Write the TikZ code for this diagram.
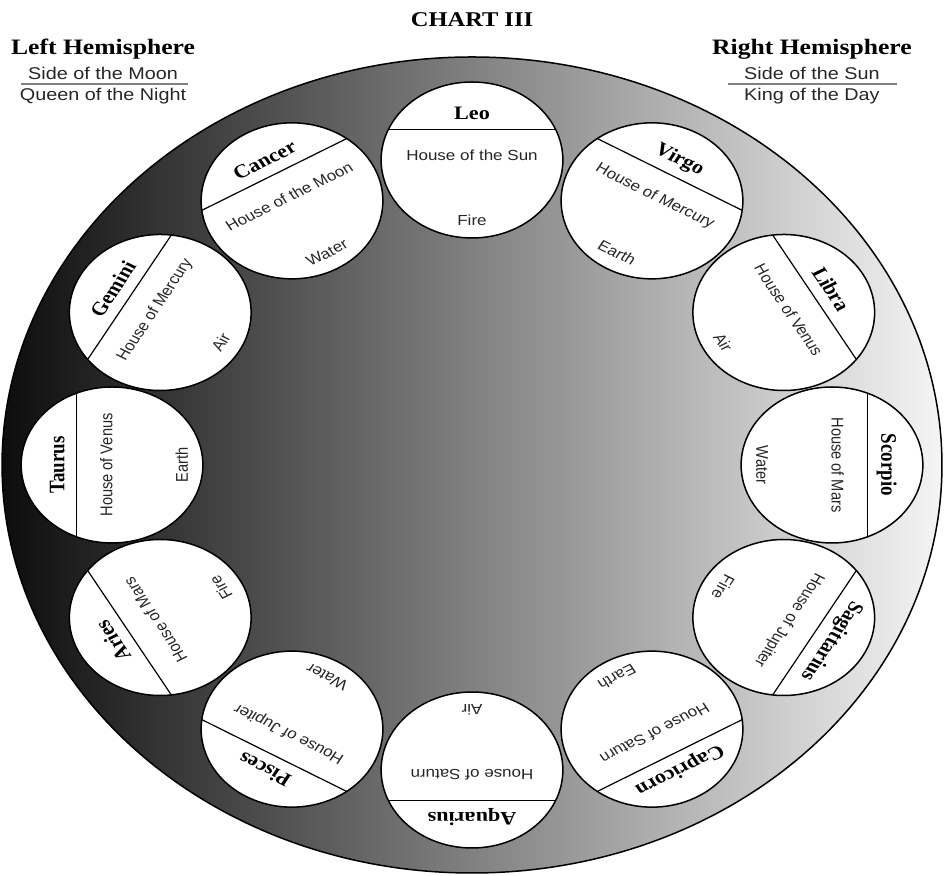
\documentclass[tikz,border=0pt]{standalone}
\usepackage{fontspec}
\setmainfont{Liberation Serif}
\newfontfamily\hsans{Liberation Sans}
\tikzset{
  signcirc/.style={circle, draw=black, line width=0.75pt, fill=white, minimum size=78pt, inner sep=0pt, outer sep=0pt},
  chordline/.style={line width=0.6pt},
  signname/.style={font=\fontsize{9.5}{11}\selectfont\bfseries, inner sep=0pt},
  housetext/.style={font=\hsans\fontsize{7.3}{9}\selectfont, inner sep=0pt, text=black!85},
  hemi/.style={font=\fontsize{11}{13}\selectfont\bfseries, inner sep=0pt},
  subtext/.style={font=\hsans\fontsize{8.5}{10}\selectfont, inner sep=0pt, text=black!85},
  rulegray/.style={draw=black!50, line width=1pt},
}
\begin{document}
\begin{tikzpicture}[x=0.5pt,y=0.5pt]
\useasboundingbox (-472,-411) rectangle (475,465);
\begin{scope}[xscale=1.165, every node/.append style={transform shape}]
  % outer shaded ellipse
  \path[draw=black, line width=0.75pt, left color=black!95, middle color=black!58, right color=black!4]
    (0,0) ellipse [x radius=403.4, y radius=408];
  % header
  \node[font=\fontsize{10.5}{12}\selectfont\bfseries] (title) at (0,445) {CHART III};
  \node[hemi] (lefth) at (-316.7,416) {Left Hemisphere};
  \node[subtext] (lside) at (-316.7,392) {Side of the Moon};
  \node[subtext] (lqueen) at (-316.7,369) {Queen of the Night};
  \coordinate (lruleA) at (-387,381);
  \coordinate (lruleB) at (-243.8,381);
  \draw[rulegray] (lruleA) -- (lruleB);
  \node[hemi] (righth) at (291.8,416) {Right Hemisphere};
  \node[subtext] (rside) at (291.8,392) {Side of the Sun};
  \node[subtext] (rking) at (291.8,369) {King of the Day};
  \coordinate (rruleA) at (219.7,381);
  \coordinate (rruleB) at (364.8,381);
  \draw[rulegray] (rruleA) -- (rruleB);
  % signs
  \foreach \a/\nm/\hs/\el/\sid in {
    90/Leo/House of the Sun/Fire/leo,
    60/Virgo/House of Mercury/Earth/virgo,
    30/Libra/House of Venus/Air/libra,
    0/Scorpio/House of Mars/Water/scorpio,
    -30/Sagittarius/House of Jupiter/Fire/sagittarius,
    -60/Capricorn/House of Saturn/Earth/capricorn,
    -90/Aquarius/House of Saturn/Air/aquarius,
    -120/Pisces/House of Jupiter/Water/pisces,
    -150/Aries/House of Mars/Fire/aries,
    180/Taurus/House of Venus/Earth/taurus,
    150/Gemini/House of Mercury/Air/gemini,
    120/Cancer/House of the Moon/Water/cancer}{
    \begin{scope}[shift={({309*cos(\a)},{305*sin(\a)})}, rotate=\a-90]
      \node[signcirc] (\sid) at (0,0) {};
      \draw[chordline] (\sid.23) -- (\sid.157);
      \node[signname] (\sid-name) at (0,47) {\nm};
      \node[housetext] (\sid-house) at (0,5) {\hs};
      \node[housetext] (\sid-el) at (0,-60) {\el};
    \end{scope}
  }
\end{scope}
\end{tikzpicture}
\end{document}
